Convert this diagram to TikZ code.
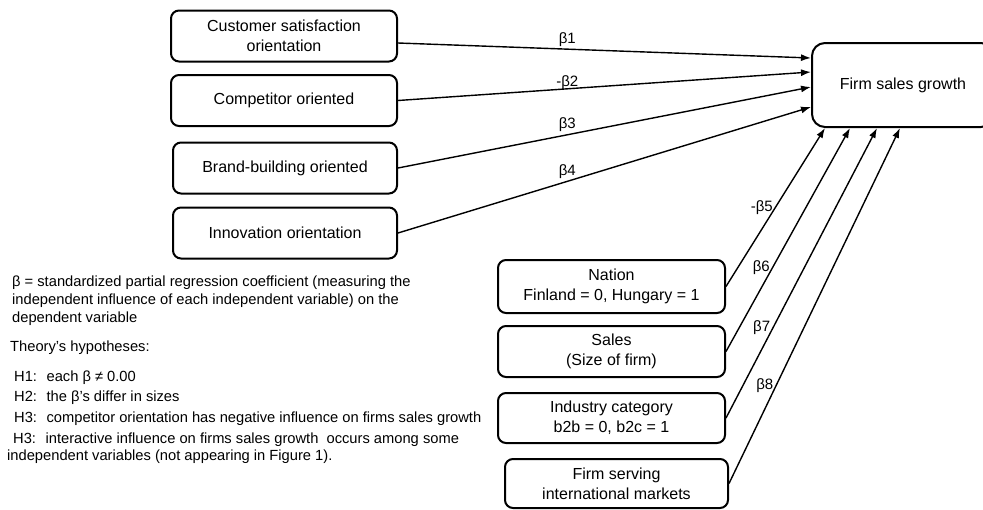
\documentclass[tikz,border=0pt]{standalone}
\usepackage{fontspec}
\setmainfont{Liberation Sans}
\usetikzlibrary{arrows.meta,positioning}

\begin{document}
\begin{tikzpicture}[
    x=1pt, y=-1pt,
    factor/.style={draw, line width=2pt, rounded corners=8pt, minimum width=226pt, minimum height=51pt,
                   align=center, inner sep=2pt, font=\fontsize{16}{20}\selectfont},
    outcome/.style={factor, rounded corners=13pt, minimum width=182pt, minimum height=84pt},
    remark/.style={anchor=west, align=left, inner sep=0pt, font=\fontsize{14.7}{18}\selectfont},
    effect/.style={line width=1.4pt, -{Latex[length=10pt,width=7pt]}},
    coef/.style={inner sep=2pt, font=\fontsize{15}{18}\selectfont},
]
  \useasboundingbox (0,0) rectangle (983,509);
  \clip (0,0) rectangle (983,509);

  \node [factor]  (cust)     at (284,  36  ) {Customer satisfaction\\orientation};
  \node [factor]  (comp)     at (284, 100.5) {Competitor oriented};
  \node [factor, minimum width=224pt]  (brand) at (285, 168) {Brand-building oriented};
  \node [factor, minimum width=224pt]  (innov) at (285, 233) {Innovation orientation};
  \node [outcome] (growth)   at (903,  85  ) {Firm sales growth};

  \node [factor, minimum width=227pt, minimum height=53pt] (nation)   at (611.5, 286.5) {Nation\\Finland = 0, Hungary = 1};
  \node [factor, minimum width=227pt] (sales)    at (611.5, 351.5) {Sales\\(Size of firm)};
  \node [factor, minimum width=227pt, minimum height=50pt] (industry) at (611.5, 418  ) {Industry category\\b2b = 0, b2c = 1};
  \node [factor, minimum width=223pt, minimum height=49pt] (serving)  at (616.5, 483.5) {Firm serving\\international markets};

  \draw [effect] ([yshift=-7pt]cust.east) -- node [coef, above, pos=0.41]      {β1} ([yshift=27pt]growth.west);
  \draw [effect] (comp.east)              -- node [coef, above=-3pt, pos=0.41] {-β2} ([yshift=13pt]growth.west);
  \draw [effect] (brand.east)             -- node [coef, above, pos=0.41]      {β3} ([yshift=-2pt]growth.west);
  \draw [effect] (innov.east)             -- node [coef, above, pos=0.41]      {β4} ([yshift=-22pt]growth.west);

  \draw [effect] (nation.east)   -- node [coef, left, pos=0.5  ] {-β5} ([xshift=-78pt]growth.south);
  \draw [effect] (sales.east)    -- node [coef, left, pos=0.375] {β6}  ([xshift=-53pt]growth.south);
  \draw [effect] (industry.east) -- node [coef, left, pos=0.31 ] {β7}  ([xshift=-26pt]growth.south);
  \draw [effect] (serving.east)  -- node [coef, left, pos=0.275] {β8}  ([xshift=-3pt]growth.south);

  \node [remark] (legend) at (12, 301) {β = standardized partial regression coefficient (measuring the\\
    independent influence of each independent variable) on the\\dependent variable};
  \node [remark] (theory) at (10, 348) {Theory’s hypotheses:};
  \node [remark] (hone)   at (14, 378) {H1: \ each β ≠ 0.00};
  \node [remark] (htwo)   at (14, 398) {H2: \ the β’s differ in sizes};
  \node [remark] (hthree) at (14, 419) {H3: \ competitor orientation has negative influence on firms sales growth};
  \node [remark, font=\fontsize{14.7}{17}\selectfont] (hfour) at (7, 448.5)
    {\hspace*{6pt}H3: \ interactive influence on firms sales growth \ occurs among some\\
     independent variables (not appearing in Figure 1).};
\end{tikzpicture}
\end{document}
